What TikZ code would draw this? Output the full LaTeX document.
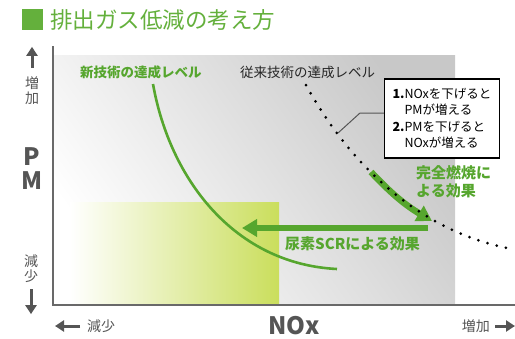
\documentclass[tikz,border=0pt]{standalone}
\usepackage{fontspec}
\setmainfont{Noto Sans CJK JP}
\usetikzlibrary{arrows.meta}
\definecolor{ecoGreen}{RGB}{86,166,46}
\definecolor{titleGreen}{RGB}{100,176,60}
\definecolor{limeGreen}{RGB}{202,222,92}
\definecolor{axisGray}{RGB}{105,105,105}
\definecolor{textGray}{RGB}{85,85,85}
\definecolor{areaGray}{RGB}{200,200,200}

\begin{document}
\begin{tikzpicture}[
	x=1pt, y=-1pt,
	font=\fontsize{13.5}{16}\selectfont
]
\tikzset{
    greenlabel/.style = {text=ecoGreen, font=\fontsize{15}{18}\selectfont\bfseries, inner sep=0pt, align=left},
    axislabel/.style = {text=textGray, font=\fontsize{14}{15}\selectfont, inner sep=0pt, align=center},
    bigletter/.style = {text=textGray, font=\fontsize{24}{24}\selectfont\bfseries, inner sep=0pt, align=center},
    axisarrow/.style = {draw=textGray, line width=3pt, -{Triangle[length=9pt,width=11pt]}},
    fatarrow/.style = {draw=ecoGreen, line width=6.5pt, -{Triangle[length=15pt,width=17pt]}},
    notebox/.style = {rectangle, draw=black, line width=1.2pt, fill=white, align=left, minimum width=115pt, minimum height=79pt, inner sep=0pt, font=\fontsize{12.5}{16.5}\selectfont}
}
\useasboundingbox (0,0) rectangle (515,338);

% background areas
\shade[left color=white, right color=areaGray, shading angle=125] (53,55) rectangle (455,305);
\shade[left color=white, right color=limeGreen] (70,202) rectangle (279,305);

% title
\fill[titleGreen] (22,9) rectangle (43,30);
\node[anchor=west, text=titleGreen, font=\fontsize{22.5}{24}\selectfont, inner sep=0pt] (title) at (50,20) {排出ガス低減の考え方};

% axes
\coordinate (yEnd) at (53,46);
\coordinate (origin) at (53,305);
\coordinate (xEnd) at (515,305);
\draw[axisGray, line width=1.5pt] (yEnd) -- (origin) -- (xEnd);

% new technology
\coordinate (newStart) at (153,84);
\coordinate (newEnd) at (337,269);
\draw[ecoGreen, line width=2.6pt] (newStart) .. controls (170,180) and (235,264) .. (newEnd);

% effects
\coordinate (burnStart) at (371,172);
\coordinate (burnEnd) at (432,221);
\draw[fatarrow] (burnStart) to[bend right=8] (burnEnd);
\coordinate (scrStart) at (428,228);
\coordinate (scrEnd) at (242,228);
\draw[fatarrow] (scrStart) -- (scrEnd);

% conventional technology
\coordinate (oldStart) at (306,85);
\coordinate (oldEnd) at (512,249);
\draw[black, line width=3pt, line cap=round, dash pattern=on 0pt off 9.5pt] (oldStart) .. controls (350,165) and (420,232) .. (oldEnd);

% labels
\node[anchor=west, inner sep=0pt, text=ecoGreen, font=\fontsize{13.5}{16}\selectfont\bfseries] (newLabel) at (80,72) {新技術の達成レベル};
\node[anchor=west, inner sep=0pt, text=black!85] (oldLabel) at (240,72) {従来技術の達成レベル};
\node[greenlabel, anchor=west] (burnLabel) at (416,182) {完全燃焼に\\よる効果};
\node[greenlabel, anchor=west] (scrLabel) at (285,244) {尿素SCRによる効果};

% note
\node[notebox] (noteBox) at (442,118.5) {\textbf{1.}NOxを下げると\\\phantom{\textbf{1.}}PMが増える\\\textbf{2.}PMを下げると\\\phantom{\textbf{2.}}NOxが増える};
\coordinate (leadBend) at (360,113);
\coordinate (leadEnd) at (338,133);
\draw[textGray, line width=1pt] ([yshift=5.5pt]noteBox.west) -- (leadBend) -- (leadEnd);

% axis labels
\node[axislabel] (pmUp) at (32,91) {増\\加};
\draw[axisarrow] ([yshift=9pt]pmUp.north) -- +(0,-21);
\node[bigletter] (pmLabel) at (32,169) {P\\M};
\node[axislabel] (pmDown) at (31,269) {減\\少};
\draw[axisarrow] ([yshift=-6pt]pmDown.south) -- +(0,25);
\node[axislabel, anchor=west] (noxDown) at (87,326) {減少};
\draw[axisarrow] ([xshift=-7pt]noxDown.west) -- +(-25,0);
\node[bigletter] (noxLabel) at (294,326) {NOx};
\node[axislabel, anchor=east] (noxUp) at (490,326) {増加};
\draw[axisarrow] ([xshift=5pt]noxUp.east) -- +(20,0);
\end{tikzpicture}
\end{document}
